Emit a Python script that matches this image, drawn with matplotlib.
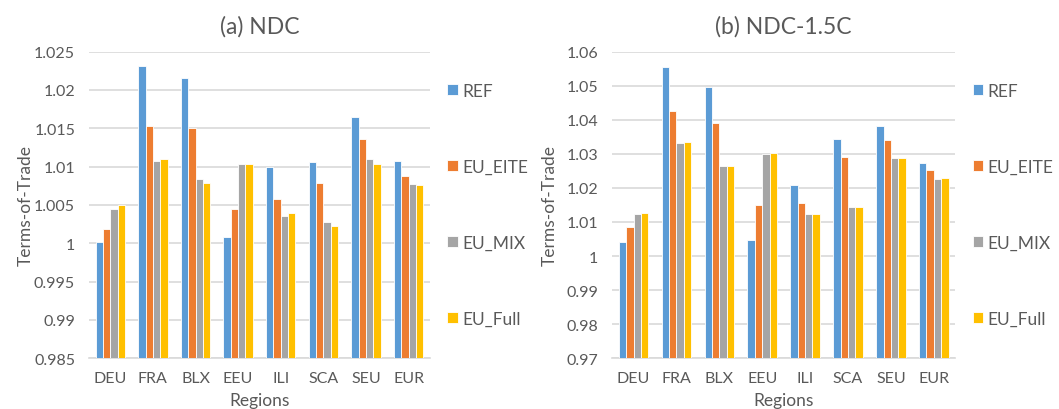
import matplotlib.pyplot as plt
import numpy as np

plt.rcParams['font.family'] = ['Lato', 'DejaVu Sans']

regions = ["DEU", "FRA", "BLX", "EEU", "ILI", "SCA", "SEU", "EUR"]
series = ["REF", "EU_EITE", "EU_MIX", "EU_Full"]
colors = ["#5B9BD5", "#ED7D31", "#A5A5A5", "#FFC000"]

# (a) NDC
ndc_ref = [1.0002, 1.0231, 1.0215, 1.0008, 1.0100, 1.0106, 1.0165, 1.0107]
ndc_eite = [1.0018, 1.0153, 1.0150, 1.0045, 1.0058, 1.0079, 1.0136, 1.0088]
ndc_mix = [1.0045, 1.0107, 1.0084, 1.0104, 1.0036, 1.0028, 1.0110, 1.0077]
ndc_full = [1.0050, 1.0110, 1.0079, 1.0103, 1.0039, 1.0022, 1.0104, 1.0076]

# (b) NDC-1.5C
c15_ref = [1.0041, 1.0555, 1.0497, 1.0048, 1.0208, 1.0344, 1.0381, 1.0273]
c15_eite = [1.0085, 1.0425, 1.0390, 1.0150, 1.0156, 1.0290, 1.0342, 1.0252]
c15_mix = [1.0123, 1.0331, 1.0264, 1.0300, 1.0123, 1.0144, 1.0289, 1.0227]
c15_full = [1.0126, 1.0335, 1.0265, 1.0301, 1.0124, 1.0144, 1.0289, 1.0228]

txt = "#595959"
fig = plt.figure(figsize=(10.59, 4.10), dpi=100)
ax1 = fig.add_axes([0.084, 0.1237, 0.322, 0.748])
ax2 = fig.add_axes([0.578, 0.1237, 0.324, 0.748])

panels = [
    (ax1, "(a) NDC", [ndc_ref, ndc_eite, ndc_mix, ndc_full], (0.985, 1.025), 0.005, 0),
    (ax2, "(b) NDC-1.5C", [c15_ref, c15_eite, c15_mix, c15_full], (0.97, 1.06), 0.01, 6),
]

x = np.arange(len(regions))
w = 0.172
for ax, title, data, ylim, step, ypad in panels:
    base = ylim[0]
    for i, vals in enumerate(data):
        ax.bar(x + (i - 1.5) * w, np.array(vals) - base, w, bottom=base,
               color=colors[i], edgecolor="white", linewidth=0.6, label=series[i], zorder=3)
    ax.set_ylim(*ylim)
    ax.set_xlim(-0.5, len(regions) - 0.5)
    ticks = np.arange(ylim[0], ylim[1] + step / 2, step)
    ax.set_yticks(ticks)
    ax.set_yticklabels(["{:g}".format(round(t, 3)) for t in ticks])
    ax.set_xticks(x)
    ax.set_xticklabels(regions)
    ax.yaxis.grid(True, color="#D9D9D9", linewidth=1.2, zorder=0)
    for s in ["top", "right", "left"]:
        ax.spines[s].set_visible(False)
    ax.spines["bottom"].set_color("#D9D9D9")
    ax.spines["bottom"].set_linewidth(1.2)
    ax.tick_params(length=0, labelsize=11.5, colors=txt)
    ax.tick_params(axis="y", pad=10)
    ax.tick_params(axis="x", pad=9)
    ax.set_title(title, fontsize=16.5, color=txt, pad=14)
    ax.set_xlabel("Regions", fontsize=12.5, color=txt, labelpad=5)
    ax.set_ylabel("Terms-of-Trade", fontsize=12.5, color=txt, labelpad=ypad)
    leg = ax.legend(loc="center left", bbox_to_anchor=(1.005, 0.5), frameon=False,
                    labelspacing=3.45, handlelength=0.6, handleheight=0.6,
                    handletextpad=0.25, fontsize=12.5)
    for t in leg.get_texts():
        t.set_color(txt)

fig.savefig("out.png", dpi=100)
